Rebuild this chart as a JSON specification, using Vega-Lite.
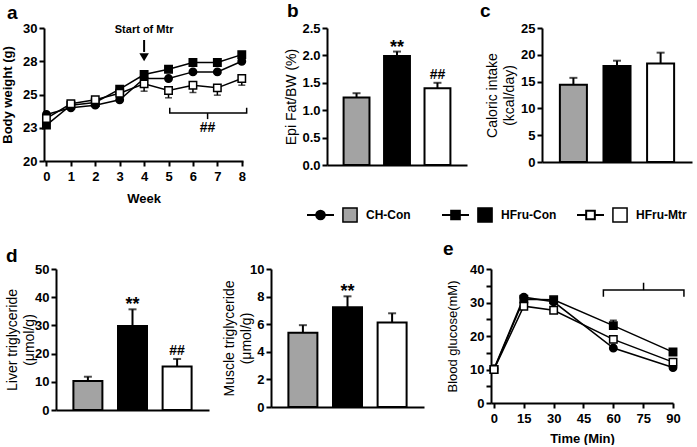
{
  "$schema": "https://vega.github.io/schema/vega-lite/v6.json",
  "background": "white",
  "padding": {"left": 1, "top": 2, "right": 0, "bottom": 0},
  "autosize": {"type": "pad"},
  "spacing": -10,
  "config": {
    "view": {"stroke": null},
    "font": "Liberation Sans",
    "axis": {"domainColor": "black", "domainWidth": 2, "tickColor": "black", "tickWidth": 2, "tickSize": 5, "labelFont": "Liberation Sans", "labelFontSize": 13, "labelFontWeight": "bold", "labelColor": "black", "labelPadding": 2, "titleFont": "Liberation Sans", "titleColor": "black", "titleFontSize": 13, "titleFontWeight": "bold", "grid": false, "labelFlush": false, "labelOverlap": false},
    "title": {"font": "Liberation Sans", "fontSize": 19, "fontWeight": "bold", "color": "black", "anchor": "start", "frame": "group", "offset": 4}
  },
  "datasets": {
    "bw": [
      {"week": 0, "group": "CH-Con", "value": 23.5}, {"week": 1, "group": "CH-Con", "value": 24.0}, {"week": 2, "group": "CH-Con", "value": 24.2}, {"week": 3, "group": "CH-Con", "value": 24.6}, {"week": 4, "group": "CH-Con", "value": 26.2}, {"week": 5, "group": "CH-Con", "value": 26.2}, {"week": 6, "group": "CH-Con", "value": 26.7}, {"week": 7, "group": "CH-Con", "value": 26.7}, {"week": 8, "group": "CH-Con", "value": 27.5},
      {"week": 0, "group": "HFru-Con", "value": 22.7}, {"week": 1, "group": "HFru-Con", "value": 24.2}, {"week": 2, "group": "HFru-Con", "value": 24.4}, {"week": 3, "group": "HFru-Con", "value": 25.4}, {"week": 4, "group": "HFru-Con", "value": 26.5}, {"week": 5, "group": "HFru-Con", "value": 26.9}, {"week": 6, "group": "HFru-Con", "value": 27.4}, {"week": 7, "group": "HFru-Con", "value": 27.4}, {"week": 8, "group": "HFru-Con", "value": 28.0},
      {"week": 0, "group": "HFru-Mtr", "value": 23.2}, {"week": 1, "group": "HFru-Mtr", "value": 24.3}, {"week": 2, "group": "HFru-Mtr", "value": 24.6}, {"week": 3, "group": "HFru-Mtr", "value": 25.1}, {"week": 4, "group": "HFru-Mtr", "value": 25.8, "lo": 25.25}, {"week": 5, "group": "HFru-Mtr", "value": 25.3, "lo": 24.75}, {"week": 6, "group": "HFru-Mtr", "value": 25.7, "lo": 25.15}, {"week": 7, "group": "HFru-Mtr", "value": 25.5, "lo": 24.95}, {"week": 8, "group": "HFru-Mtr", "value": 26.2, "lo": 25.7}
    ],
    "bracketA": [{"i": 0, "x": 5.05, "y": 24.0}, {"i": 1, "x": 5.05, "y": 23.6}, {"i": 2, "x": 8.2, "y": 23.6}, {"i": 3, "x": 8.2, "y": 24.0}],
    "bracketE": [{"i": 0, "x": 55, "y": 31.7}, {"i": 1, "x": 55, "y": 33.7}, {"i": 2, "x": 95.5, "y": 33.7}, {"i": 3, "x": 95.5, "y": 31.7}],
    "epi": [{"group": "CH-Con", "mean": 1.23, "hi": 1.31, "sig": ""}, {"group": "HFru-Con", "mean": 1.99, "hi": 2.07, "sig": "**"}, {"group": "HFru-Mtr", "mean": 1.40, "hi": 1.50, "sig": "##"}],
    "cal": [{"group": "CH-Con", "mean": 14.4, "hi": 15.7, "sig": ""}, {"group": "HFru-Con", "mean": 17.9, "hi": 18.9, "sig": ""}, {"group": "HFru-Mtr", "mean": 18.4, "hi": 20.4, "sig": ""}],
    "liver": [{"group": "CH-Con", "mean": 10.3, "hi": 11.8, "sig": ""}, {"group": "HFru-Con", "mean": 29.8, "hi": 35.7, "sig": "**"}, {"group": "HFru-Mtr", "mean": 15.4, "hi": 18.1, "sig": "##"}],
    "muscle": [{"group": "CH-Con", "mean": 5.38, "hi": 5.93, "sig": ""}, {"group": "HFru-Con", "mean": 7.23, "hi": 8.02, "sig": "**"}, {"group": "HFru-Mtr", "mean": 6.12, "hi": 6.79, "sig": ""}],
    "glu": [
      {"t": 0, "group": "CH-Con", "value": 10.2}, {"t": 15, "group": "CH-Con", "value": 31.6}, {"t": 30, "group": "CH-Con", "value": 30.2}, {"t": 60, "group": "CH-Con", "value": 16.4}, {"t": 90, "group": "CH-Con", "value": 10.6},
      {"t": 0, "group": "HFru-Con", "value": 10.0}, {"t": 15, "group": "HFru-Con", "value": 31.0}, {"t": 30, "group": "HFru-Con", "value": 30.8}, {"t": 60, "group": "HFru-Con", "value": 23.1, "hi": 24.7}, {"t": 90, "group": "HFru-Con", "value": 15.2},
      {"t": 0, "group": "HFru-Mtr", "value": 10.0}, {"t": 15, "group": "HFru-Mtr", "value": 28.9}, {"t": 30, "group": "HFru-Mtr", "value": 27.7}, {"t": 60, "group": "HFru-Mtr", "value": 19.0}, {"t": 90, "group": "HFru-Mtr", "value": 12.2}
    ],
    "legend": [{"group": "CH-Con"}, {"group": "HFru-Con"}, {"group": "HFru-Mtr"}]
  },
  "vconcat": [
    {
      "hconcat": [
        {
          "width": 199, "height": 133,
          "title": {"text": "a", "dx": -37, "dy": 5},
          "layer": [
            {"data": {"name": "bw"}, "mark": {"type": "line", "color": "black", "strokeWidth": 1.5},
             "encoding": {
               "x": {"field": "week", "type": "quantitative", "scale": {"domain": [-0.1, 8.05], "nice": false, "zero": false}, "axis": {"values": [0, 1, 2, 3, 4, 5, 6, 7, 8], "tickCount": 50, "format": "d", "title": "Week", "labelPadding": 4, "titlePadding": 9}},
               "y": {"field": "value", "type": "quantitative", "scale": {"domain": [20, 30], "nice": false, "zero": false}, "axis": {"values": [20, 22.5, 25, 27.5, 30], "tickCount": 50, "labelExpr": "round(datum.value)", "title": "Body weight (g)", "titlePadding": 8}},
               "detail": {"field": "group"}}},
            {"data": {"name": "bw"}, "transform": [{"filter": "isValid(datum.lo)"}], "mark": {"type": "rule", "color": "black", "strokeWidth": 1.5},
             "encoding": {"x": {"field": "week", "type": "quantitative"}, "y": {"field": "value", "type": "quantitative"}, "y2": {"field": "lo"}}},
            {"data": {"name": "bw"}, "transform": [{"filter": "isValid(datum.lo)"}], "mark": {"type": "tick", "orient": "horizontal", "size": 7, "thickness": 1.5, "color": "black"},
             "encoding": {"x": {"field": "week", "type": "quantitative"}, "y": {"field": "lo", "type": "quantitative"}}},
            {"data": {"name": "bw"}, "mark": {"type": "point", "filled": true, "size": 55, "stroke": "black", "strokeWidth": 1.5, "opacity": 1},
             "encoding": {"x": {"field": "week", "type": "quantitative"}, "y": {"field": "value", "type": "quantitative"},
               "shape": {"field": "group", "type": "nominal", "scale": {"domain": ["CH-Con", "HFru-Con", "HFru-Mtr"], "range": ["circle", "square", "square"]}, "legend": null},
               "fill": {"field": "group", "type": "nominal", "scale": {"domain": ["CH-Con", "HFru-Con", "HFru-Mtr"], "range": ["black", "black", "white"]}, "legend": null}}},
            {"data": {"name": "bracketA"}, "mark": {"type": "line", "color": "black", "strokeWidth": 1.5},
             "encoding": {"x": {"field": "x", "type": "quantitative"}, "y": {"field": "y", "type": "quantitative"}, "order": {"field": "i"}}},
            {"data": {"values": [{}]}, "mark": {"type": "rule", "color": "black", "strokeWidth": 1.5},
             "encoding": {"x": {"datum": 6.6, "type": "quantitative"}, "y": {"datum": 23.6, "type": "quantitative"}, "y2": {"datum": 23.15}}},
            {"data": {"values": [{}]}, "mark": {"type": "text", "text": "##", "fontSize": 14, "fontWeight": "bold", "baseline": "middle"},
             "encoding": {"x": {"datum": 6.6, "type": "quantitative"}, "y": {"datum": 22.45, "type": "quantitative"}}},
            {"data": {"values": [{}]}, "mark": {"type": "rule", "color": "black", "strokeWidth": 2},
             "encoding": {"x": {"datum": 4, "type": "quantitative"}, "y": {"datum": 29.1, "type": "quantitative"}, "y2": {"datum": 28.2}}},
            {"data": {"values": [{}]}, "mark": {"type": "point", "shape": "triangle-down", "filled": true, "color": "black", "size": 90, "opacity": 1},
             "encoding": {"x": {"datum": 4, "type": "quantitative"}, "y": {"datum": 27.8, "type": "quantitative"}}},
            {"data": {"values": [{}]}, "mark": {"type": "text", "text": "Start of Mtr", "fontSize": 11, "fontWeight": "bold", "baseline": "middle"},
             "encoding": {"x": {"datum": 4, "type": "quantitative"}, "y": {"datum": 29.85, "type": "quantitative"}}}
          ]
        },
        {"width": 84, "height": 1, "data": {"values": [{}]}, "mark": {"type": "point", "opacity": 0}},
        {
          "width": 140, "height": 137,
          "title": {"text": "b", "dx": -40, "dy": 3},
          "data": {"name": "epi"},
          "encoding": {"x": {"field": "group", "type": "nominal", "sort": null, "scale": {"domain": ["CH-Con", "HFru-Con", "HFru-Mtr"], "paddingInner": 0.36, "paddingOuter": 0.41}, "axis": {"labels": false, "ticks": false, "title": null}}},
          "layer": [
            {"mark": {"type": "bar", "stroke": "black", "strokeWidth": 2},
             "encoding": {"y": {"field": "mean", "type": "quantitative", "scale": {"domain": [0, 2.5], "nice": false}, "axis": {"values": [0, 0.5, 1, 1.5, 2, 2.5], "tickCount": 50, "format": ".1f", "title": "Epi Fat/BW (%)", "titleFontWeight": "normal", "titleFontSize": 14, "titlePadding": 3}},
               "color": {"field": "group", "type": "nominal", "scale": {"domain": ["CH-Con", "HFru-Con", "HFru-Mtr"], "range": ["#a3a3a3", "#000000", "#ffffff"]}, "legend": null}}},
            {"mark": {"type": "rule", "color": "black", "strokeWidth": 2}, "encoding": {"y": {"field": "mean", "type": "quantitative"}, "y2": {"field": "hi"}}},
            {"mark": {"type": "tick", "orient": "horizontal", "size": 8, "thickness": 2, "color": "black"}, "encoding": {"y": {"field": "hi", "type": "quantitative"}}},
            {"transform": [{"filter": "datum.sig == '**'"}], "mark": {"type": "text", "fontSize": 18, "fontWeight": "bold", "baseline": "alphabetic", "dy": 1}, "encoding": {"y": {"field": "hi", "type": "quantitative"}, "text": {"field": "sig"}}},
            {"transform": [{"filter": "datum.sig == '##'"}], "mark": {"type": "text", "fontSize": 14, "fontWeight": "bold", "baseline": "alphabetic", "dy": -4}, "encoding": {"y": {"field": "hi", "type": "quantitative"}, "text": {"field": "sig"}}}
          ]
        },
        {"width": 75, "height": 1, "data": {"values": [{}]}, "mark": {"type": "point", "opacity": 0}},
        {
          "width": 150, "height": 134,
          "title": {"text": "c", "dx": -62, "dy": 3},
          "data": {"name": "cal"},
          "encoding": {"x": {"field": "group", "type": "nominal", "sort": null, "scale": {"domain": ["CH-Con", "HFru-Con", "HFru-Mtr"], "paddingInner": 0.38, "paddingOuter": 0.41}, "axis": {"labels": false, "ticks": false, "title": null}}},
          "layer": [
            {"mark": {"type": "bar", "stroke": "black", "strokeWidth": 2},
             "encoding": {"y": {"field": "mean", "type": "quantitative", "scale": {"domain": [0, 25], "nice": false}, "axis": {"values": [0, 5, 10, 15, 20, 25], "tickCount": 50, "format": "d", "title": ["Caloric intake", "(kcal/day)"], "titleFontWeight": "normal", "titleFontSize": 14, "titleLineHeight": 17, "titlePadding": 4}},
               "color": {"field": "group", "type": "nominal", "scale": {"domain": ["CH-Con", "HFru-Con", "HFru-Mtr"], "range": ["#a3a3a3", "#000000", "#ffffff"]}, "legend": null}}},
            {"mark": {"type": "rule", "color": "black", "strokeWidth": 2}, "encoding": {"y": {"field": "mean", "type": "quantitative"}, "y2": {"field": "hi"}}},
            {"mark": {"type": "tick", "orient": "horizontal", "size": 8, "thickness": 2, "color": "black"}, "encoding": {"y": {"field": "hi", "type": "quantitative"}}}
          ]
        }
      ],
      "spacing": 0,
      "bounds": "flush"
    },
    {
      "hconcat": [
        {"width": 263, "height": 45, "data": {"values": [{}]}, "mark": {"type": "point", "opacity": 0}},
        {
          "width": 405, "height": 20,
          "data": {"name": "legend"},
          "encoding": {"x": {"field": "group", "type": "nominal", "sort": null, "bandPosition": 0, "scale": {"type": "band", "domain": ["CH-Con", "HFru-Con", "HFru-Mtr"], "paddingInner": 0, "paddingOuter": 0}, "axis": null}},
          "layer": [
            {"mark": {"type": "point", "shape": "stroke", "size": 729, "strokeWidth": 2, "color": "black", "filled": false, "opacity": 1, "xOffset": 13.5}},
            {"mark": {"type": "point", "filled": true, "size": 75, "stroke": "black", "strokeWidth": 2, "opacity": 1, "xOffset": 13.5},
             "encoding": {
               "shape": {"field": "group", "type": "nominal", "scale": {"domain": ["CH-Con", "HFru-Con", "HFru-Mtr"], "range": ["circle", "square", "square"]}, "legend": null},
               "fill": {"field": "group", "type": "nominal", "scale": {"domain": ["CH-Con", "HFru-Con", "HFru-Mtr"], "range": ["black", "black", "white"]}, "legend": null}}},
            {"mark": {"type": "square", "size": 200, "stroke": "black", "strokeWidth": 1.5, "opacity": 1, "xOffset": 43},
             "encoding": {"color": {"field": "group", "type": "nominal", "scale": {"domain": ["CH-Con", "HFru-Con", "HFru-Mtr"], "range": ["#a3a3a3", "#000000", "#ffffff"]}, "legend": null}}},
            {"mark": {"type": "text", "align": "left", "baseline": "middle", "fontSize": 12, "fontWeight": "bold", "xOffset": 59}, "encoding": {"text": {"field": "group"}}}
          ]
        }
      ],
      "spacing": 0,
      "bounds": "flush"
    },
    {
      "hconcat": [
        {"width": 12, "height": 1, "data": {"values": [{}]}, "mark": {"type": "point", "opacity": 0}},
        {
          "width": 153, "height": 141,
          "title": {"text": "d", "dx": -50, "dy": 7},
          "data": {"name": "liver"},
          "encoding": {"x": {"field": "group", "type": "nominal", "sort": null, "scale": {"domain": ["CH-Con", "HFru-Con", "HFru-Mtr"], "paddingInner": 0.35, "paddingOuter": 0.39}, "axis": {"labels": false, "ticks": false, "title": null}}},
          "layer": [
            {"mark": {"type": "bar", "stroke": "black", "strokeWidth": 2},
             "encoding": {"y": {"field": "mean", "type": "quantitative", "scale": {"domain": [0, 50], "nice": false}, "axis": {"values": [0, 10, 20, 30, 40, 50], "tickCount": 50, "format": "d", "title": ["Liver triglyceride", "(μmol/g)"], "titleFontWeight": "normal", "titleFontSize": 14, "titleLineHeight": 17, "titlePadding": -2}},
               "color": {"field": "group", "type": "nominal", "scale": {"domain": ["CH-Con", "HFru-Con", "HFru-Mtr"], "range": ["#a3a3a3", "#000000", "#ffffff"]}, "legend": null}}},
            {"mark": {"type": "rule", "color": "black", "strokeWidth": 2}, "encoding": {"y": {"field": "mean", "type": "quantitative"}, "y2": {"field": "hi"}}},
            {"mark": {"type": "tick", "orient": "horizontal", "size": 8, "thickness": 2, "color": "black"}, "encoding": {"y": {"field": "hi", "type": "quantitative"}}},
            {"transform": [{"filter": "datum.sig == '**'"}], "mark": {"type": "text", "fontSize": 18, "fontWeight": "bold", "baseline": "alphabetic", "dy": 1}, "encoding": {"y": {"field": "hi", "type": "quantitative"}, "text": {"field": "sig"}}},
            {"transform": [{"filter": "datum.sig == '##'"}], "mark": {"type": "text", "fontSize": 14, "fontWeight": "bold", "baseline": "alphabetic", "dy": -4}, "encoding": {"y": {"field": "hi", "type": "quantitative"}, "text": {"field": "sig"}}}
          ]
        },
        {"width": 62, "height": 1, "data": {"values": [{}]}, "mark": {"type": "point", "opacity": 0}},
        {
          "width": 153, "height": 138,
          "data": {"name": "muscle"},
          "encoding": {"x": {"field": "group", "type": "nominal", "sort": null, "scale": {"domain": ["CH-Con", "HFru-Con", "HFru-Mtr"], "paddingInner": 0.35, "paddingOuter": 0.39}, "axis": {"labels": false, "ticks": false, "title": null}}},
          "layer": [
            {"mark": {"type": "bar", "stroke": "black", "strokeWidth": 2},
             "encoding": {"y": {"field": "mean", "type": "quantitative", "scale": {"domain": [0, 10], "nice": false}, "axis": {"values": [0, 2, 4, 6, 8, 10], "tickCount": 50, "format": "d", "title": ["Muscle triglyceride", "(μmol/g)"], "titleFontWeight": "normal", "titleFontSize": 14, "titleLineHeight": 17, "titlePadding": -4}},
               "color": {"field": "group", "type": "nominal", "scale": {"domain": ["CH-Con", "HFru-Con", "HFru-Mtr"], "range": ["#a3a3a3", "#000000", "#ffffff"]}, "legend": null}}},
            {"mark": {"type": "rule", "color": "black", "strokeWidth": 2}, "encoding": {"y": {"field": "mean", "type": "quantitative"}, "y2": {"field": "hi"}}},
            {"mark": {"type": "tick", "orient": "horizontal", "size": 8, "thickness": 2, "color": "black"}, "encoding": {"y": {"field": "hi", "type": "quantitative"}}},
            {"transform": [{"filter": "datum.sig == '**'"}], "mark": {"type": "text", "fontSize": 18, "fontWeight": "bold", "baseline": "alphabetic", "dy": 1}, "encoding": {"y": {"field": "hi", "type": "quantitative"}, "text": {"field": "sig"}}}
          ]
        },
        {"width": 67, "height": 1, "data": {"values": [{}]}, "mark": {"type": "point", "opacity": 0}},
        {
          "width": 182, "height": 134,
          "title": {"text": "e", "dx": -48},
          "layer": [
            {"data": {"name": "glu"}, "mark": {"type": "line", "color": "black", "strokeWidth": 1.5},
             "encoding": {
               "x": {"field": "t", "type": "quantitative", "scale": {"domain": [-1.5, 90], "nice": false, "zero": false}, "axis": {"values": [0, 15, 30, 45, 60, 75, 90], "tickCount": 50, "format": "d", "title": "Time (Min)", "labelPadding": 4, "titlePadding": 7}},
               "y": {"field": "value", "type": "quantitative", "scale": {"domain": [0, 40], "nice": false}, "axis": {"values": [0, 5, 10, 15, 20, 25, 30, 35, 40], "tickCount": 50, "format": "d", "labelExpr": "datum.value % 10 == 0 ? datum.label : ''", "title": "Blood glucose(mM)", "titleFontWeight": "normal", "titleFontSize": 13, "titlePadding": 10}},
               "detail": {"field": "group"}}},
            {"data": {"name": "glu"}, "transform": [{"filter": "isValid(datum.hi)"}], "mark": {"type": "rule", "color": "black", "strokeWidth": 1.5},
             "encoding": {"x": {"field": "t", "type": "quantitative"}, "y": {"field": "value", "type": "quantitative"}, "y2": {"field": "hi"}}},
            {"data": {"name": "glu"}, "transform": [{"filter": "isValid(datum.hi)"}], "mark": {"type": "tick", "orient": "horizontal", "size": 7, "thickness": 1.5, "color": "black"},
             "encoding": {"x": {"field": "t", "type": "quantitative"}, "y": {"field": "hi", "type": "quantitative"}}},
            {"data": {"name": "glu"}, "mark": {"type": "point", "filled": true, "size": 55, "stroke": "black", "strokeWidth": 1.5, "opacity": 1},
             "encoding": {"x": {"field": "t", "type": "quantitative"}, "y": {"field": "value", "type": "quantitative"},
               "shape": {"field": "group", "type": "nominal", "scale": {"domain": ["CH-Con", "HFru-Con", "HFru-Mtr"], "range": ["circle", "square", "square"]}, "legend": null},
               "fill": {"field": "group", "type": "nominal", "scale": {"domain": ["CH-Con", "HFru-Con", "HFru-Mtr"], "range": ["black", "black", "white"]}, "legend": null}}},
            {"data": {"name": "bracketE"}, "mark": {"type": "line", "color": "black", "strokeWidth": 1.5},
             "encoding": {"x": {"field": "x", "type": "quantitative"}, "y": {"field": "y", "type": "quantitative"}, "order": {"field": "i"}}},
            {"data": {"values": [{}]}, "mark": {"type": "rule", "color": "black", "strokeWidth": 1.5},
             "encoding": {"x": {"datum": 75.2, "type": "quantitative"}, "y": {"datum": 33.7, "type": "quantitative"}, "y2": {"datum": 35.9}}}
          ]
        }
      ],
      "spacing": 0,
      "bounds": "flush"
    }
  ]
}
